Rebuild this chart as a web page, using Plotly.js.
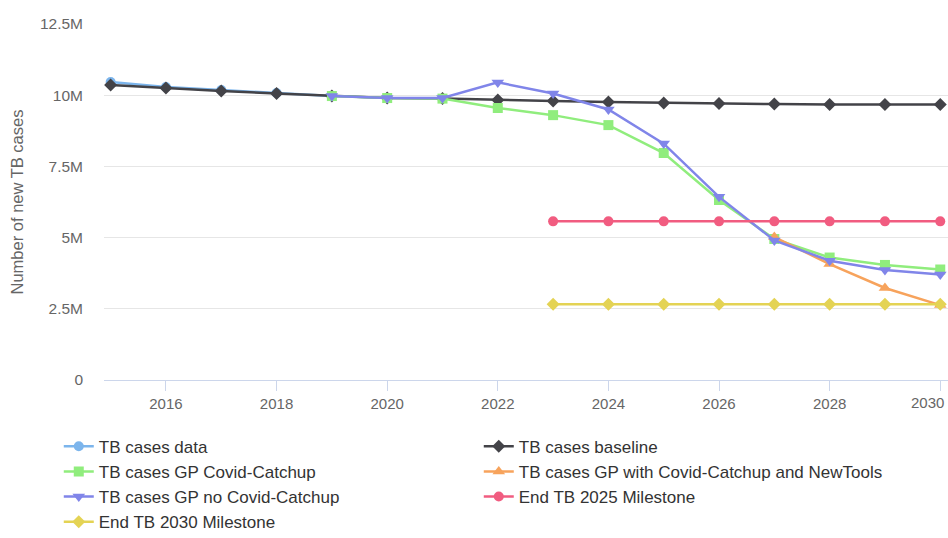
<!DOCTYPE html>
<html>
<head>
<meta charset="utf-8">
<script src="https://cdn.plot.ly/plotly-3.0.1.min.js"></script>
<style>html,body{margin:0;padding:0;background:#fff;}#chart{width:948px;height:538px;}</style>
</head>
<body>
<div id="chart"></div>
<script>
const yearsData = [2015, 2016, 2017, 2018, 2019];
const tbData = [10.46e6, 10.29e6, 10.18e6, 10.08e6, 9.97e6];

const yearsBaseline = [2015,2016,2017,2018,2019,2020,2021,2022,2023,2024,2025,2026,2027,2028,2029,2030];
const tbBaseline = [10.36e6,10.25e6,10.15e6,10.06e6,9.97e6,9.90e6,9.88e6,9.83e6,9.80e6,9.76e6,9.73e6,9.71e6,9.69e6,9.67e6,9.67e6,9.67e6];

const yearsGP = [2019,2020,2021,2022,2023,2024,2025,2026,2027,2028,2029,2030];
const tbGPCatchup = [9.97e6,9.90e6,9.88e6,9.55e6,9.30e6,8.95e6,7.97e6,6.32e6,4.95e6,4.30e6,4.04e6,3.88e6];
const tbGPNoCatchup = [9.97e6,9.90e6,9.90e6,10.45e6,10.06e6,9.50e6,8.30e6,6.43e6,4.90e6,4.19e6,3.86e6,3.70e6];

const yearsNewTools = [2027, 2028, 2029, 2030];
const tbGPNewTools = [5.02e6, 4.07e6, 3.23e6, 2.63e6];

const yearsMilestone = [2023,2024,2025,2026,2027,2028,2029,2030];
const milestone2025 = [5.57e6,5.57e6,5.57e6,5.57e6,5.57e6,5.57e6,5.57e6,5.57e6];
const milestone2030 = [2.66e6,2.66e6,2.66e6,2.66e6,2.66e6,2.66e6,2.66e6,2.66e6];

const yTickVals = [0, 2.5e6, 5e6, 7.5e6, 10e6, 12.5e6];
const yTickText = ["0", "2.5M", "5M", "7.5M", "10M", "12.5M"];
const xTickVals = [2016, 2018, 2020, 2022, 2024, 2026, 2028, 2030];
const xTickText = ["2016", "2018", "2020", "2022", "2024", "2026", "2028", ""];
const lastXLabel = "2030";

function tr(name, x, y, color, symbol, size) {
  return {
    type: 'scatter', mode: 'lines+markers', name: name, x: x, y: y,
    line: {color: color, width: 2.5},
    marker: {color: color, symbol: symbol, size: size},
    hoverinfo: 'skip'
  };
}

const traces = [
  tr('TB cases data', yearsData, tbData, '#7cb5ec', 'circle', 10),
  tr('TB cases baseline', yearsBaseline, tbBaseline, '#434348', 'diamond', 10),
  tr('TB cases GP Covid-Catchup', yearsGP, tbGPCatchup, '#90ed7d', 'square', 10),
  tr('TB cases GP with Covid-Catchup and NewTools', yearsNewTools, tbGPNewTools, '#f7a35c', 'triangle-up', 11),
  tr('TB cases GP no Covid-Catchup', yearsGP, tbGPNoCatchup, '#8085e9', 'triangle-down', 11),
  tr('End TB 2025 Milestone', yearsMilestone, milestone2025, '#f15c80', 'circle', 10),
  tr('End TB 2030 Milestone', yearsMilestone, milestone2030, '#e4d354', 'diamond', 10)
];

const layout = {
  width: 948, height: 538,
  margin: {l: 104, r: 0, t: 24, b: 158, autoexpand: false},
  paper_bgcolor: '#fff', plot_bgcolor: '#fff',
  font: {family: '"Liberation Sans", Arial, sans-serif', color: '#666666', size: 15},
  showlegend: true,
  xaxis: {
    range: [2014.88, 2030.14],
    tickvals: xTickVals, ticktext: xTickText,
    ticks: 'outside', ticklen: 10, tickcolor: '#ccd6eb', tickwidth: 1,
    showline: true, linecolor: '#ccd6eb', linewidth: 1,
    showgrid: false, zeroline: false,
    tickfont: {size: 15, color: '#666666'}
  },
  yaxis: {
    range: [0, 12.5e6],
    tickvals: yTickVals, ticktext: yTickText,
    showgrid: true, gridcolor: '#e6e6e6', gridwidth: 1,
    zeroline: false, showline: false, ticks: '',
    ticklabelstandoff: 20,
    tickfont: {size: 15.5, color: '#666666'},
    title: {text: 'Number of new TB cases', font: {size: 16.5, color: '#666666'}, standoff: 12}
  },
  annotations: [{
    x: 2030, y: 0, xref: 'x', yref: 'y', text: lastXLabel, showarrow: false,
    xanchor: 'right', yanchor: 'top', xshift: 6, yshift: -12,
    font: {size: 15, color: '#666666'}
  }],
  legend: {
    orientation: 'h', xref: 'container', yref: 'container',
    x: 0.062, xanchor: 'left', y: 0.203, yanchor: 'top',
    entrywidth: 375, entrywidthmode: 'pixels',
    font: {size: 17, color: '#333333'},
    itemwidth: 30
  }
};

Plotly.newPlot('chart', traces, layout, {displayModeBar: false, staticPlot: true});
</script>
</body>
</html>
